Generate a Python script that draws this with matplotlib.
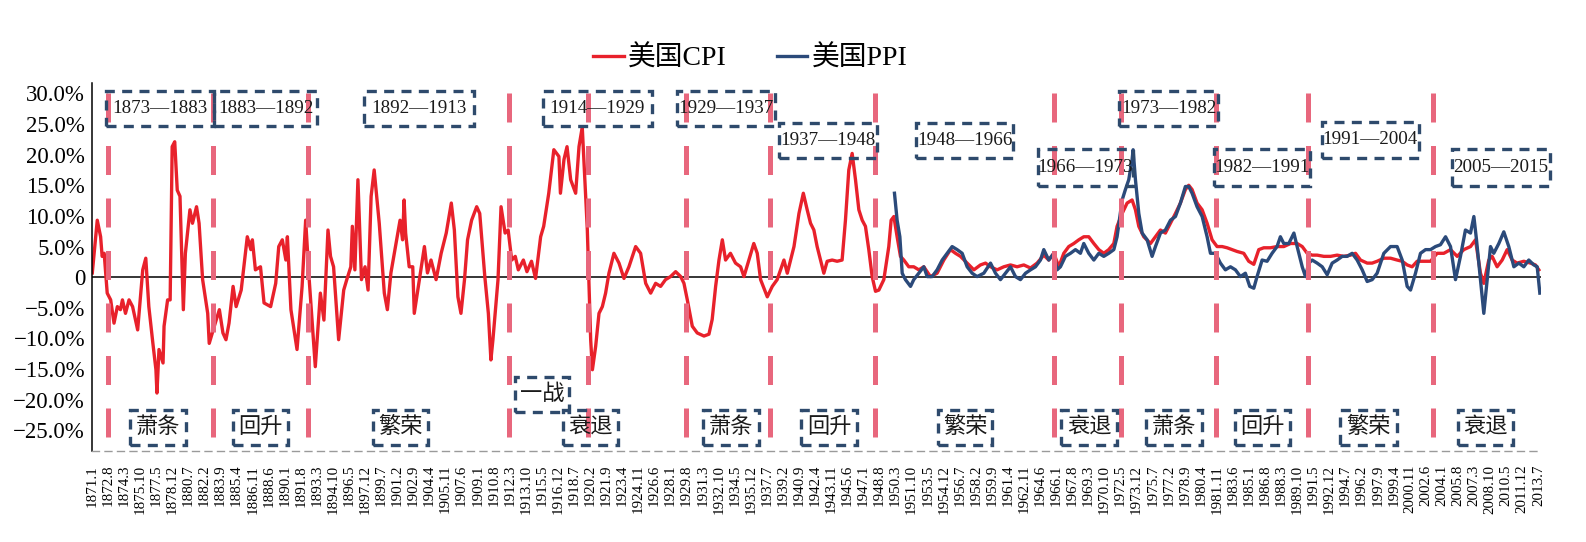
import matplotlib.pyplot as plt
from matplotlib.patches import Rectangle

plt.rcParams['font.family'] = ['Liberation Serif', 'Noto Sans CJK SC']
plt.rcParams['axes.unicode_minus'] = True

# x tick labels, year.month every 19 months
tick_labels = [
    '1871.1', '1872.8', '1874.3', '1875.10', '1877.5', '1878.12', '1880.7', '1882.2',
    '1883.9', '1885.4', '1886.11', '1888.6', '1890.1', '1891.8', '1893.3', '1894.10',
    '1896.5', '1897.12', '1899.7', '1901.2', '1902.9', '1904.4', '1905.11', '1907.6',
    '1909.1', '1910.8', '1912.3', '1913.10', '1915.5', '1916.12', '1918.7', '1920.2',
    '1921.9', '1923.4', '1924.11', '1926.6', '1928.1', '1929.8', '1931.3', '1932.10',
    '1934.5', '1935.12', '1937.7', '1939.2', '1940.9', '1942.4', '1943.11', '1945.6',
    '1947.1', '1948.8', '1950.3', '1951.10', '1953.5', '1954.12', '1956.7', '1958.2',
    '1959.9', '1961.4', '1962.11', '1964.6', '1966.1', '1967.8', '1969.3', '1970.10',
    '1972.5', '1973.12', '1975.7', '1977.2', '1978.9', '1980.4', '1981.11', '1983.6',
    '1985.1', '1986.8', '1988.3', '1989.10', '1991.5', '1992.12', '1994.7', '1996.2',
    '1997.9', '1999.4', '2000.11', '2002.6', '2004.1', '2005.8', '2007.3', '2008.10',
    '2010.5', '2011.12', '2013.7']

ytick_vals = [30, 25, 20, 15, 10, 5, 0, -5, -10, -15, -20, -25]
ytick_labels = ['30.0%', '25.0%', '20.0%', '15.0%', '10.0%', '5.0%', '0',
                '\u22125.0%', '\u221210.0%', '\u221215.0%', '\u221220.0%', '\u221225.0%']

# US CPI, year-on-year %
cpi_dates = [
    1871.03, 1871.52, 1871.85, 1872.0, 1872.2, 1872.35, 1872.5, 1872.84, 1873.17, 1873.5,
    1873.8, 1874.0, 1874.3, 1874.65, 1875.0, 1875.5, 1876.0, 1876.3, 1876.6, 1877.0,
    1877.3, 1877.4, 1877.6, 1878.0, 1878.1, 1878.45, 1878.7, 1878.9, 1879.15, 1879.4,
    1879.67, 1880.0, 1880.2, 1880.65, 1880.9, 1881.3, 1881.55, 1881.9, 1882.4, 1882.55,
    1883.05, 1883.55, 1883.9, 1884.2, 1884.5, 1884.9, 1885.2, 1885.7, 1886.3, 1886.65,
    1886.8, 1887.1, 1887.6, 1887.95, 1888.6, 1889.1, 1889.4, 1889.75, 1890.1, 1890.25,
    1890.6, 1891.2, 1891.7, 1892.05, 1892.4, 1893.0, 1893.5, 1893.85, 1894.25, 1894.5,
    1894.8, 1895.3, 1895.8, 1896.1, 1896.5, 1896.65, 1896.9, 1897.2, 1897.55, 1897.9,
    1898.2, 1898.5, 1898.8, 1899.3, 1899.8, 1900.1, 1900.45, 1900.9, 1901.35, 1901.6,
    1901.75, 1901.9, 1902.25, 1902.6, 1902.75, 1903.25, 1903.75, 1904.05, 1904.4, 1904.9,
    1905.4, 1905.9, 1906.4, 1906.7, 1907.05, 1907.35, 1907.7, 1908.0, 1908.4, 1908.9,
    1909.2, 1909.7, 1910.05, 1910.3, 1910.5, 1911.0, 1911.3, 1911.5, 1911.7, 1912.0,
    1912.35, 1912.7, 1913.0, 1913.5, 1913.85, 1914.3, 1914.7, 1915.2, 1915.5, 1916.0,
    1916.5, 1917.0, 1917.15, 1917.5, 1917.8, 1918.16, 1918.65, 1918.98, 1919.3, 1919.54,
    1919.8, 1920.13, 1920.3, 1920.62, 1920.95, 1921.28, 1921.6, 1921.93, 1922.42, 1922.92,
    1923.41, 1923.9, 1924.56, 1925.05, 1925.55, 1926.04, 1926.53, 1927.02, 1927.5, 1928.0,
    1928.5, 1929.0, 1929.32, 1929.65, 1930.14, 1930.63, 1931.29, 1931.78, 1932.1, 1932.44,
    1932.77, 1933.1, 1933.42, 1933.9, 1934.4, 1934.9, 1935.23, 1935.72, 1936.2, 1936.54,
    1936.87, 1937.53, 1938.02, 1938.5, 1939.17, 1939.5, 1940.16, 1940.65, 1941.08, 1941.46,
    1941.79, 1942.12, 1942.44, 1942.77, 1943.1, 1943.43, 1943.92, 1944.41, 1944.9, 1945.23,
    1945.56, 1945.89, 1946.22, 1946.55, 1946.88, 1947.2, 1947.53, 1947.86, 1948.19, 1948.52,
    1949.01, 1949.5, 1949.73, 1950.0, 1950.32, 1950.65, 1950.98, 1951.47, 1951.96, 1952.46,
    1952.95, 1953.6, 1954.26, 1954.92, 1955.58, 1956.07, 1956.56, 1957.22, 1957.88, 1958.53,
    1959.03, 1959.52, 1960.17, 1960.83, 1961.49, 1962.14, 1962.8, 1963.46, 1964.11, 1964.77,
    1965.26, 1965.76, 1966.25, 1966.74, 1967.23, 1967.73, 1968.22, 1968.71, 1969.2, 1969.7,
    1970.19, 1970.68, 1971.17, 1971.67, 1971.99, 1972.49, 1972.98, 1973.47, 1973.8, 1974.13,
    1974.62, 1975.28, 1975.77, 1976.26, 1976.75, 1977.25, 1977.74, 1978.23, 1978.72, 1979.05,
    1979.38, 1979.87, 1980.37, 1980.86, 1981.35, 1981.84, 1982.34, 1982.83, 1983.32, 1983.81,
    1984.47, 1984.96, 1985.46, 1985.95, 1986.44, 1987.1, 1987.75, 1988.42, 1989.08, 1989.73,
    1990.23, 1990.72, 1991.21, 1991.7, 1992.36, 1993.02, 1993.67, 1994.33, 1994.99, 1995.48,
    1995.97, 1996.63, 1997.12, 1997.61, 1998.27, 1998.93, 1999.58, 2000.08, 2000.57, 2001.06,
    2001.55, 2002.21, 2002.87, 2003.52, 2004.18, 2004.84, 2005.5, 2006.15, 2006.81, 2007.3,
    2007.79, 2008.12, 2008.61, 2008.94, 2009.43, 2009.93, 2010.42, 2010.91, 2011.4, 2012.06,
    2012.72, 2013.21, 2013.54]
cpi_vals = [
    0.7, 9.3, 6.6, 3.4, 3.9, 0.7, -2.6, -3.7, -7.5, -4.8,
    -5.3, -3.7, -5.9, -3.7, -4.8, -8.6, 1.2, 3.1, -4.8, -10.8,
    -15.1, -18.9, -11.8, -14.0, -8.0, -3.7, -3.7, 21.3, 22.1, 14.2,
    13.2, -5.3, 3.9, 11.0, 8.8, 11.5, 8.8, -0.4, -5.9, -10.8,
    -8.0, -5.3, -9.1, -10.2, -7.5, -1.5, -4.8, -2.1, 6.6, 4.5,
    6.1, 1.2, 1.7, -4.2, -4.8, -1.0, 5.0, 6.1, 2.8, 6.6,
    -5.3, -11.8, -1.5, 9.3, -0.4, -14.6, -2.6, -7.0, 7.7, 3.4,
    1.7, -10.2, -2.1, -0.4, 1.7, 8.3, 1.2, 15.9, -0.4, 1.7,
    -2.1, 13.2, 17.5, 8.8, -2.6, -5.3, 0.7, 5.0, 9.3, 6.1,
    12.6, 7.2, 1.7, 1.7, -5.9, -0.4, 5.0, 0.7, 2.8, -0.4,
    3.9, 7.2, 12.1, 7.7, -3.2, -5.9, -0.4, 6.1, 9.3, 11.5,
    10.4, 0.1, -5.9, -13.5, -10.2, -0.4, 11.5, 9.3, 7.2, 7.7,
    2.8, 3.4, 1.2, 2.8, 0.9, 2.6, -0.2, 6.6, 8.3, 13.7,
    20.8, 19.7, 13.7, 19.2, 21.3, 15.9, 13.7, 21.3, 24.5, 16.4,
    7.7, -10.2, -15.1, -11.3, -5.9, -4.8, -2.6, 0.65, 3.9, 2.3,
    -0.2, 1.7, 5.0, 3.9, -1.0, -2.6, -1.0, -1.5, -0.4, 0.1,
    0.9, 0.1, -1.0, -3.7, -8.0, -9.1, -9.6, -9.3, -6.9, -1.5,
    2.8, 6.1, 2.8, 3.9, 2.3, 1.7, 0.1, 2.8, 5.5, 3.9,
    -0.4, -3.2, -1.5, -0.4, 2.8, 0.65, 5.0, 10.4, 13.7, 11.0,
    8.8, 7.7, 5.0, 2.8, 0.65, 2.6, 2.8, 2.6, 2.8, 9.3,
    17.5, 20.2, 15.9, 11.0, 9.3, 8.3, 4.5, 0.1, -2.3, -2.1,
    -0.4, 5.0, 9.3, 9.9, 6.6, 3.4, 2.8, 1.7, 1.7, 1.2,
    1.7, 0.1, 0.65, 2.8, 4.5, 3.9, 3.4, 2.3, 1.2, 2.0,
    2.3, 1.7, 1.2, 1.7, 2.0, 1.7, 2.0, 1.5, 2.3, 3.6,
    2.8, 3.9, 1.7, 3.9, 5.0, 5.5, 6.1, 6.6, 6.6, 5.5,
    4.5, 3.9, 4.5, 5.5, 8.3, 10.4, 12.1, 12.6, 11.0, 8.3,
    6.6, 5.5, 6.6, 7.7, 7.2, 8.8, 10.4, 12.1, 14.3, 15.0,
    14.3, 12.1, 11.0, 8.8, 6.1, 5.0, 5.0, 4.8, 4.5, 4.2,
    3.9, 2.6, 2.1, 4.5, 4.8, 4.8, 5.0, 5.0, 5.5, 5.5,
    5.0, 3.9, 3.6, 3.6, 3.4, 3.4, 3.6, 3.4, 3.6, 3.9,
    2.8, 2.3, 2.3, 2.6, 3.1, 3.1, 2.8, 2.6, 2.0, 1.7,
    2.6, 2.6, 2.6, 3.9, 3.9, 4.5, 3.4, 4.5, 5.0, 6.1,
    0.65, -1.0, 2.8, 3.4, 1.7, 2.8, 4.5, 2.8, 2.3, 2.6,
    2.3, 2.0, 1.2]

# US PPI, year-on-year %
ppi_dates = [
    1950.06, 1950.32, 1950.59, 1950.82, 1951.14, 1951.64, 1951.96, 1952.46, 1952.95, 1953.28,
    1953.77, 1954.26, 1954.76, 1955.25, 1955.74, 1956.23, 1956.73, 1957.22, 1957.71, 1958.2,
    1958.86, 1959.52, 1960.01, 1960.5, 1961.0, 1961.49, 1961.98, 1962.47, 1962.97, 1963.46,
    1963.95, 1964.44, 1964.77, 1965.26, 1965.76, 1966.08, 1966.41, 1966.9, 1967.4, 1967.89,
    1968.38, 1968.71, 1969.2, 1969.7, 1970.19, 1970.68, 1971.17, 1971.67, 1971.99, 1972.49,
    1972.81, 1973.14, 1973.47, 1973.57, 1973.8, 1974.13, 1974.46, 1974.95, 1975.44, 1975.77,
    1976.26, 1976.75, 1977.25, 1977.74, 1978.23, 1978.72, 1979.05, 1979.38, 1979.87, 1980.37,
    1980.86, 1981.19, 1981.68, 1982.17, 1982.66, 1983.16, 1983.65, 1984.14, 1984.63, 1985.06,
    1985.46, 1985.78, 1986.28, 1986.77, 1987.26, 1987.75, 1988.08, 1988.41, 1988.91, 1989.41,
    1989.73, 1990.23, 1990.55, 1990.88, 1991.21, 1991.7, 1992.2, 1992.69, 1993.18, 1993.67,
    1994.17, 1994.66, 1995.15, 1995.64, 1996.14, 1996.63, 1997.12, 1997.61, 1998.27, 1998.93,
    1999.58, 2000.08, 2000.57, 2000.9, 2001.39, 2001.88, 2002.38, 2002.87, 2003.36, 2003.85,
    2004.35, 2004.84, 2005.33, 2005.82, 2006.31, 2006.81, 2007.14, 2007.4, 2007.79, 2008.12,
    2008.45, 2008.78, 2009.1, 2009.6, 2010.09, 2010.58, 2011.08, 2011.57, 2012.06, 2012.55,
    2013.05, 2013.38, 2013.64]
ppi_vals = [
    13.7, 9.3, 6.6, 0.65, -0.4, -1.5, -0.4, 0.65, 1.7, 0.1,
    0.1, 1.2, 2.8, 3.9, 5.0, 4.5, 3.9, 1.7, 0.65, 0.1,
    0.65, 2.3, 0.65, -0.4, 0.65, 1.7, 0.1, -0.4, 0.65, 1.2,
    1.7, 2.8, 4.5, 2.8, 3.9, 1.2, 1.7, 3.4, 3.9, 4.5,
    3.9, 5.5, 3.9, 2.8, 3.9, 3.4, 3.9, 4.5, 6.6, 12.6,
    14.3, 15.9, 19.2, 20.8, 15.9, 10.4, 7.2, 6.1, 3.4, 5.0,
    7.2, 7.7, 9.3, 9.9, 12.1, 14.8, 14.8, 13.7, 11.5, 9.9,
    6.6, 3.9, 3.9, 2.3, 1.2, 1.7, 1.2, 0.1, 0.65, -1.5,
    -1.8, 0.1, 2.8, 2.6, 3.9, 5.0, 6.6, 5.5, 5.5, 7.2,
    5.0, 1.7, 0.1, 2.3, 2.8, 2.3, 1.7, 0.4, 2.3, 2.8,
    3.4, 3.4, 3.9, 2.8, 1.2, -0.7, -0.4, 0.65, 3.9, 5.0,
    5.0, 2.8, -1.5, -2.1, 0.65, 3.9, 4.5, 4.5, 5.0, 5.3,
    6.6, 5.0, -0.4, 3.4, 7.7, 7.2, 9.9, 6.1, -0.4, -5.9,
    -0.4, 5.0, 3.9, 5.5, 7.4, 5.0, 1.7, 2.3, 1.7, 2.8,
    2.0, 1.7, -2.6]

# cycle turning points (vertical dashed lines)
cycle_lines = [1872.58, 1882.92, 1892.28, 1912.08, 1919.86, 1929.51, 1937.79,
               1948.13, 1965.82, 1972.36, 1981.69, 1990.78, 2003.09]

# period boxes: text, x0, x1, y0, y1 (data units)
period_boxes = [
    ('1873\u20141883', 1872.38, 1883.02, 24.6, 30.4),
    ('1883\u20141892', 1883.02, 1893.16, 24.6, 30.4),
    ('1892\u20141913', 1897.79, 1908.63, 24.6, 30.4),
    ('1914\u20141929', 1915.42, 1926.16, 24.6, 30.4),
    ('1929\u20141937', 1928.68, 1938.28, 24.6, 30.4),
    ('1937\u20141948', 1938.67, 1948.29, 19.4, 25.2),
    ('1948\u20141966', 1952.17, 1961.78, 19.4, 25.2),
    ('1966\u20141973', 1964.18, 1973.54, 14.8, 20.9),
    ('1973\u20141982', 1972.22, 1981.92, 24.6, 30.4),
    ('1982\u20141991', 1981.52, 1991.04, 14.8, 20.9),
    ('1991\u20142004', 1992.13, 2001.71, 19.4, 25.4),
    ('2005\u20142015', 2004.98, 2014.63, 14.8, 20.9),
]

phase_boxes = [
    ('萧条', 1874.74, 1880.22, -27.4, -21.7),
    ('回升', 1884.93, 1890.29, -27.4, -21.7),
    ('繁荣', 1898.68, 1904.10, -27.4, -21.7),
    ('一战', 1912.64, 1918.04, -22.0, -16.3),
    ('衰退', 1917.40, 1922.80, -27.4, -21.7),
    ('萧条', 1931.19, 1936.70, -27.4, -21.7),
    ('回升', 1940.84, 1946.40, -27.4, -21.7),
    ('繁荣', 1954.33, 1959.70, -27.4, -21.7),
    ('衰退', 1966.45, 1972.03, -27.4, -21.7),
    ('萧条', 1974.86, 1980.31, -27.4, -21.7),
    ('回升', 1983.60, 1989.00, -27.4, -21.7),
    ('繁荣', 1994.00, 1999.52, -27.4, -21.7),
    ('衰退', 2005.62, 2010.97, -27.4, -21.7),
]


def label_to_year(s):
    y, m = s.split('.')
    return int(y) + (int(m) - 1) / 12


def dashed_box(ax, text, x0, x1, y0, y1, size):
    ax.add_patch(Rectangle((x0, y0), x1 - x0, y1 - y0, fill=False,
                           edgecolor='#2E4A6C', linewidth=2.4,
                           linestyle=(0, (3.0, 2.2)), zorder=4, clip_on=False))
    ax.text((x0 + x1) / 2, (y0 + y1) / 2, text, ha='center', va='center',
            fontsize=size, color='#1a1a1a', zorder=5, clip_on=False)


fig = plt.figure(figsize=(15.86, 5.42), dpi=100)
ax = fig.add_axes([0.058, 0.168, 0.9136, 0.679])

ax.plot(cpi_dates, cpi_vals, color='#E8212B', linewidth=2.4, label='美国CPI', zorder=2)
ax.plot(ppi_dates, ppi_vals, color='#2B4A7A', linewidth=2.4, label='美国PPI', zorder=2.5)
ax.axhline(0, color='black', linewidth=1.1, zorder=1.5)

for x in cycle_lines:
    ax.plot([x, x], [30.0, -27.6], color='#E8677D', linewidth=3.6,
            linestyle=(0, (5.8, 4.7)), zorder=3)

for text, x0, x1, y0, y1 in period_boxes:
    dashed_box(ax, text, x0, x1, y0, y1, 13.7)
for text, x0, x1, y0, y1 in phase_boxes:
    dashed_box(ax, text, x0, x1, y0, y1, 16)

ax.set_xlim(1871.0, 2013.75)
ax.set_ylim(-28.35, 31.7)
ax.set_xticks([label_to_year(s) for s in tick_labels])
ax.set_xticklabels(tick_labels, rotation=90, fontsize=10.8)
ax.set_yticks(ytick_vals)
ax.set_yticklabels(ytick_labels, fontsize=16.5)
ax.tick_params(axis='x', length=0, pad=10)
ax.tick_params(axis='y', length=0, pad=5)

ax.spines['top'].set_visible(False)
ax.spines['right'].set_visible(False)
ax.spines['left'].set_color('black')
ax.spines['left'].set_linewidth(1.1)
ax.spines['bottom'].set_color('#9a9a9a')
ax.spines['bottom'].set_linewidth(1.0)
ax.spines['bottom'].set_linestyle((0, (5, 4)))

fig.legend(loc='center', bbox_to_anchor=(0.473, 0.892), ncol=2, frameon=False,
           fontsize=20, handlelength=1.1, handletextpad=0.15, columnspacing=1.8)

fig.savefig('out.png', dpi=100)
